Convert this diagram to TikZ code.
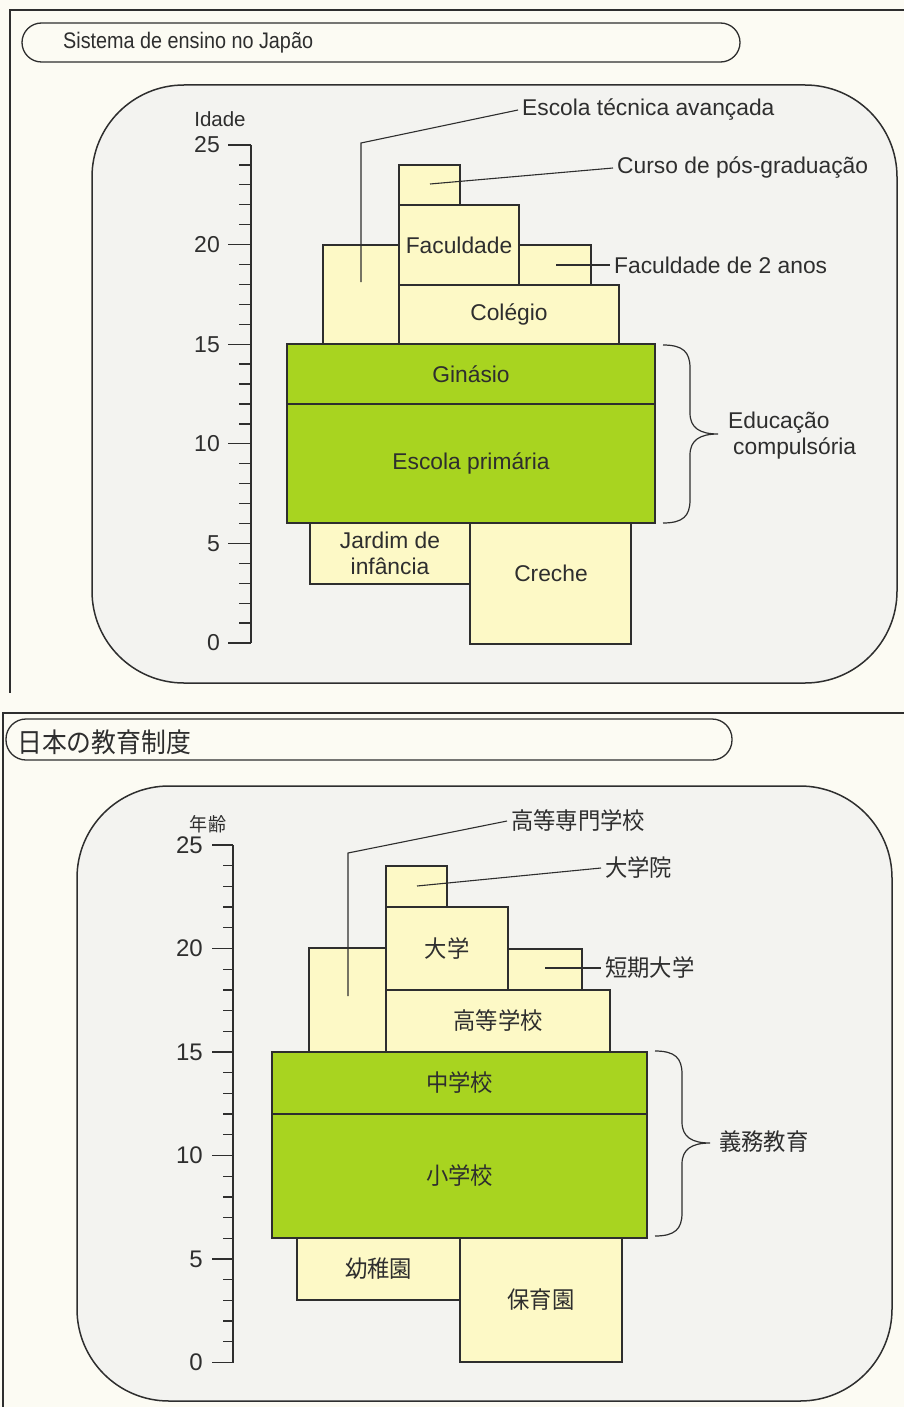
\documentclass[tikz,border=0pt]{standalone}
\usepackage{fontspec}
\setmainfont{Liberation Sans}
\newfontfamily\titlefont[FakeStretch=0.88]{Liberation Sans}
\newfontfamily\jpfont[FakeStretch=0.95]{Noto Sans CJK JP}
\newfontfamily\jptitlefont[FakeStretch=0.92]{Noto Sans CJK JP}
\definecolor{paper}{HTML}{FCFBF3}
\definecolor{panel}{HTML}{F3F3F0}
\definecolor{pale}{HTML}{FDF9C6}
\definecolor{lime}{HTML}{A8D420}
\definecolor{ink}{HTML}{2E2E2E}
\newcommand\lblfont{\fontsize{22.8}{26}\selectfont}
\newcommand\jplblfont{\jpfont\fontsize{23.5}{27}\selectfont}
\newcommand\eduBox[7]{\node[#1, anchor=north west, minimum width={#5pt-#3pt}, minimum height={#6pt-#4pt}] (#2) at (#3,#4) {#7};}
\begin{document}
\begin{tikzpicture}[x=1pt,y=-1pt,
  frame/.style={draw=ink, line width=1.4pt},
  pill/.style={draw=ink, line width=1.3pt, fill=paper},
  panelbox/.style={draw=ink, line width=1.5pt, fill=panel, rounded corners=92pt},
  ybox/.style={draw=ink, line width=1.2pt, fill=pale, inner sep=0pt, outer sep=0pt, font=\lblfont, text=ink, align=center},
  gbox/.style={ybox, fill=lime},
  jybox/.style={ybox, font=\jplblfont},
  jgbox/.style={gbox, font=\jplblfont},
  leader/.style={draw=ink, line width=1.1pt},
  tick/.style={draw=ink, line width=1.3pt},
  lbl/.style={font=\lblfont, text=ink, inner sep=4pt},
  jlbl/.style={font=\jplblfont, text=ink, inner sep=4pt},
  num/.style={font=\fontsize{23}{26}\selectfont, text=ink, inner sep=2pt},
  jnum/.style={font=\fontsize{24}{26}\selectfont, text=ink, inner sep=2pt},
  bracel/.style={draw=ink, line width=1.2pt}]
\useasboundingbox (0,0) rectangle (904,1407);
\fill[paper] (0,0) rectangle (904,1407);

% ================= TOP PANEL (Portuguese) =================
\draw[frame] (904,10) -- (10,10) -- (10,693);
\draw[pill, rounded corners=19.5pt] (22,23) rectangle (740,62);
\node[font=\titlefont\fontsize{22.5}{26}\selectfont, text=ink, anchor=west, inner sep=0pt] (titlePT) at (63,43) {Sistema de ensino no Japão};
\draw[panelbox] (92,85) rectangle (897,683);

% axis
\draw[tick] (251,145) -- (251,643);
\foreach \a in {0,...,25} {\draw[tick] (239,{643-19.92*\a}) -- (251,{643-19.92*\a});}
\foreach \a in {0,5,...,25} {\draw[tick] (228,{643-19.92*\a}) -- (251,{643-19.92*\a});
  \node[num, anchor=east] (pt\a) at (222,{643-19.92*\a}) {\a};}
\node[font=\fontsize{20.5}{24}\selectfont, text=ink, inner sep=0pt] (idade) at (220,119) {Idade};

% boxes
\eduBox{ybox}{eta}{323}{245}{399}{344}{}
\eduBox{ybox}{pos}{399}{165}{460}{205}{}
\eduBox{ybox}{fac}{399}{205}{519}{285}{Faculdade}
\eduBox{ybox}{facb}{519}{245}{591}{285}{}
\eduBox{ybox}{col}{399}{285}{619}{344}{Colégio}
\eduBox{gbox}{gin}{287}{344}{655}{404}{Ginásio}
\eduBox{gbox}{pri}{287}{404}{655}{523}{Escola primária}
\eduBox{ybox}{jar}{310}{523}{470}{584}{Jardim de\\infância}
\eduBox{ybox}{cre}{470}{523}{631}{644}{}
\node[lbl] (creL) at (551,573) {Creche};

% leaders
\coordinate (etaP) at (361,282);
\coordinate (etaK) at (361,143);
\node[lbl, anchor=west] (etaL) at (518,110) {Escola técnica avançada};
\draw[leader] (etaP) -- (etaK) -- (etaL.west);
\coordinate (posP) at (430,184);
\node[lbl, anchor=west] (posL) at (613,168) {Curso de pós-graduação};
\draw[leader] (posP) -- (posL.west);
\coordinate (facbP) at (556,265);
\node[lbl, anchor=west] (facbL) at (610,265) {Faculdade de 2 anos};
\draw[leader] (facbP) -- (facbL.west);

% brace
\coordinate (brT) at (663,345);
\coordinate (brM) at (718,434);
\coordinate (brB) at (663,523);
\draw[bracel] (brT) .. controls (683,345) and (690,352) .. (690,368) -- (690,413)
  .. controls (690,428) and (700,434) .. (brM)
  .. controls (700,434) and (690,440) .. (690,455) -- (690,500)
  .. controls (690,516) and (683,523) .. (brB);
\node[lbl, anchor=west, align=left] (compL) at (724,436) {Educação\\\hspace*{5pt}compulsória};

% ================= BOTTOM PANEL (Japanese) =================
\draw[frame] (904,713) -- (3,713) -- (3,1407);
\draw[pill, rounded corners=20pt] (6,719) rectangle (732,760);
\node[font=\jptitlefont\fontsize{27}{30}\selectfont, text=ink, anchor=west, inner sep=0pt] (titleJP) at (17,742) {日本の教育制度};
\draw[panelbox] (77,786) rectangle (892,1401);

% axis
\draw[tick] (233,845) -- (233,1362.5);
\foreach \a in {0,...,25} {\draw[tick] (223,{1362.5-20.7*\a}) -- (233,{1362.5-20.7*\a});}
\foreach \a in {0,5,...,25} {\draw[tick] (212,{1362.5-20.7*\a}) -- (233,{1362.5-20.7*\a});
  \node[jnum, anchor=east] (jt\a) at (205,{1362.5-20.7*\a}) {\a};}
\node[font=\jpfont\fontsize{19}{22}\selectfont, text=ink, inner sep=0pt] (nenrei) at (208,824) {年齢};

% boxes
\eduBox{jybox}{kosen}{309}{948}{386}{1052}{}
\eduBox{jybox}{dgin}{386}{866}{447}{907}{}
\eduBox{jybox}{dgk}{386}{907}{508}{990}{大学}
\eduBox{jybox}{tan}{508}{949}{582}{990}{}
\eduBox{jybox}{koko}{386}{990}{610}{1052}{高等学校}
\eduBox{jgbox}{chu}{272}{1052}{647}{1114}{中学校}
\eduBox{jgbox}{sho}{272}{1114}{647}{1238}{小学校}
\eduBox{jybox}{yochi}{297}{1238}{460}{1300}{幼稚園}
\eduBox{jybox}{hoiku}{460}{1238}{622}{1362}{保育園}

% leaders
\coordinate (kosenP) at (348,996);
\coordinate (kosenK) at (348,853);
\node[jlbl, anchor=west] (kosenL) at (507,821) {高等専門学校};
\draw[leader] (kosenP) -- (kosenK) -- (kosenL.west);
\coordinate (dginP) at (417,886);
\node[jlbl, anchor=west] (dginL) at (601,868) {大学院};
\draw[leader] (dginP) -- (dginL.west);
\coordinate (tanP) at (545,968);
\node[jlbl, anchor=west] (tanL) at (601,968) {短期大学};
\draw[leader] (tanP) -- (tanL.west);

% brace
\coordinate (jbrT) at (655,1051);
\coordinate (jbrM) at (710,1143);
\coordinate (jbrB) at (655,1236);
\draw[bracel] (jbrT) .. controls (675,1051) and (682,1058) .. (682,1074) -- (682,1122)
  .. controls (682,1137) and (692,1143) .. (jbrM)
  .. controls (692,1143) and (682,1149) .. (682,1164) -- (682,1213)
  .. controls (682,1229) and (675,1236) .. (jbrB);
\node[jlbl, anchor=west] (gimuL) at (715,1142) {義務教育};
\end{tikzpicture}
\end{document}
